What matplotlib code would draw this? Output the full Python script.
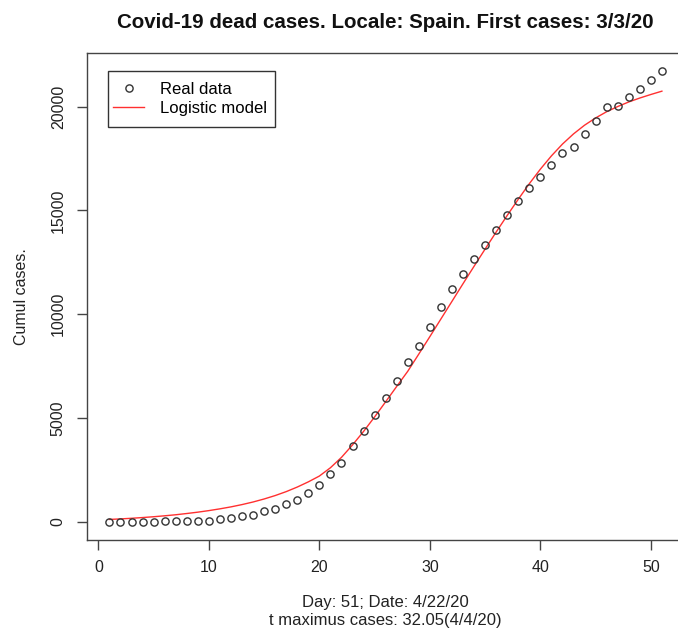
import numpy as np
import matplotlib
matplotlib.use("Agg")
import matplotlib.pyplot as plt
from matplotlib.patches import Rectangle

plt.rcParams['font.family'] = ['Liberation Sans', 'DejaVu Sans']

# days since first case
days = list(range(1, 52))

# cumulated dead cases (real data)
real_data = [1, 2, 3, 5, 10, 17, 28, 35, 54, 55,
             133, 195, 289, 342, 533, 623, 830, 1043, 1375, 1772,
             2311, 2808, 3647, 4365, 5138, 5982, 6803, 7716, 8464, 9387,
             10348, 11198, 11947, 12641, 13341, 14045, 14792, 15447, 16081, 16606,
             17209, 17756, 18056, 18708, 19315, 20002, 20043, 20453, 20852, 21282,
             21717]

# logistic model, values
model = [110, 135, 165, 200, 240, 285, 335, 395, 460, 535,
         620, 715, 825, 950, 1095, 1260, 1450, 1670, 1920, 2200,
         2600, 3100, 3700, 4350, 5050, 5780, 6520, 7250, 8080, 8920,
         9770, 10620, 11470, 12310, 13140, 13960, 14760, 15540, 16290, 16990,
         17630, 18200, 18690, 19110, 19460, 19760, 20010, 20230, 20420, 20590,
         20750]

x_ticks = [0, 10, 20, 30, 40, 50]
y_ticks = [0, 5000, 10000, 15000, 20000]

W, H = 678, 634
fig = plt.figure(figsize=(W / 100, H / 100), dpi=100)

# plot region in pixels (right edge cut off in the original)
left, right, top, bottom = 87.3, 684.0, 53.1, 539.7
ax = fig.add_axes([left / W, 1 - bottom / H, (right - left) / W, (bottom - top) / H])

ax.plot(days, model, color='#ff3030', lw=1.0, label='Logistic model', zorder=2)
ax.plot(days, real_data, 'o', mfc='none', mec='#333333', mew=1.0, ms=5.2,
        label='Real data', zorder=3)

ax.set_xlim(-1, 53)
ax.set_ylim(-867, 22585)
ax.set_xticks(x_ticks)
ax.set_yticks(y_ticks)
ax.set_yticklabels([str(v) for v in y_ticks], rotation=90, va='center')
ax.tick_params(direction='out', length=7.5, width=1, colors='#444444',
               labelsize=11.5, labelcolor='#222222')
ax.tick_params(axis='x', pad=7)
ax.tick_params(axis='y', pad=8)
for s in ax.spines.values():
    s.set_color('#444444')
    s.set_linewidth(1.0)

ax.set_ylabel('Cumul cases.', fontsize=11.5, color='#222222', labelpad=16)

fig.text(385.6 / W, 1 - 22 / H,
         'Covid-19 dead cases. Locale: Spain. First cases: 3/3/20',
         ha='center', va='center', fontsize=14.8, fontweight='bold', color='#111111')
fig.text(385.6 / W, 1 - 603 / H, 'Day: 51; Date: 4/22/20',
         ha='center', va='center', fontsize=12, color='#222222')
fig.text(385.6 / W, 1 - 621 / H, 't maximus cases: 32.05(4/4/20)',
         ha='center', va='center', fontsize=12, color='#222222')

# legend box drawn by hand (R style padding)
box = Rectangle((108.3 / W, 1 - 126.7 / H), (275.3 - 108.3) / W, (126.7 - 71) / H,
                transform=fig.transFigure, facecolor='white', edgecolor='#333333',
                lw=1.0, zorder=4)
ax.add_patch(box)

handles, labels = ax.get_legend_handles_labels()
leg = ax.legend(handles[::-1], labels[::-1], loc='upper left',
                bbox_to_anchor=(112.7 / W, 1 - 81.5 / H), bbox_transform=fig.transFigure,
                fontsize=12, frameon=False, handlelength=1.9, handletextpad=0.92,
                labelspacing=0.25, borderpad=0, borderaxespad=0)
leg.set_zorder(5)

fig.savefig('out.png', dpi=100)
